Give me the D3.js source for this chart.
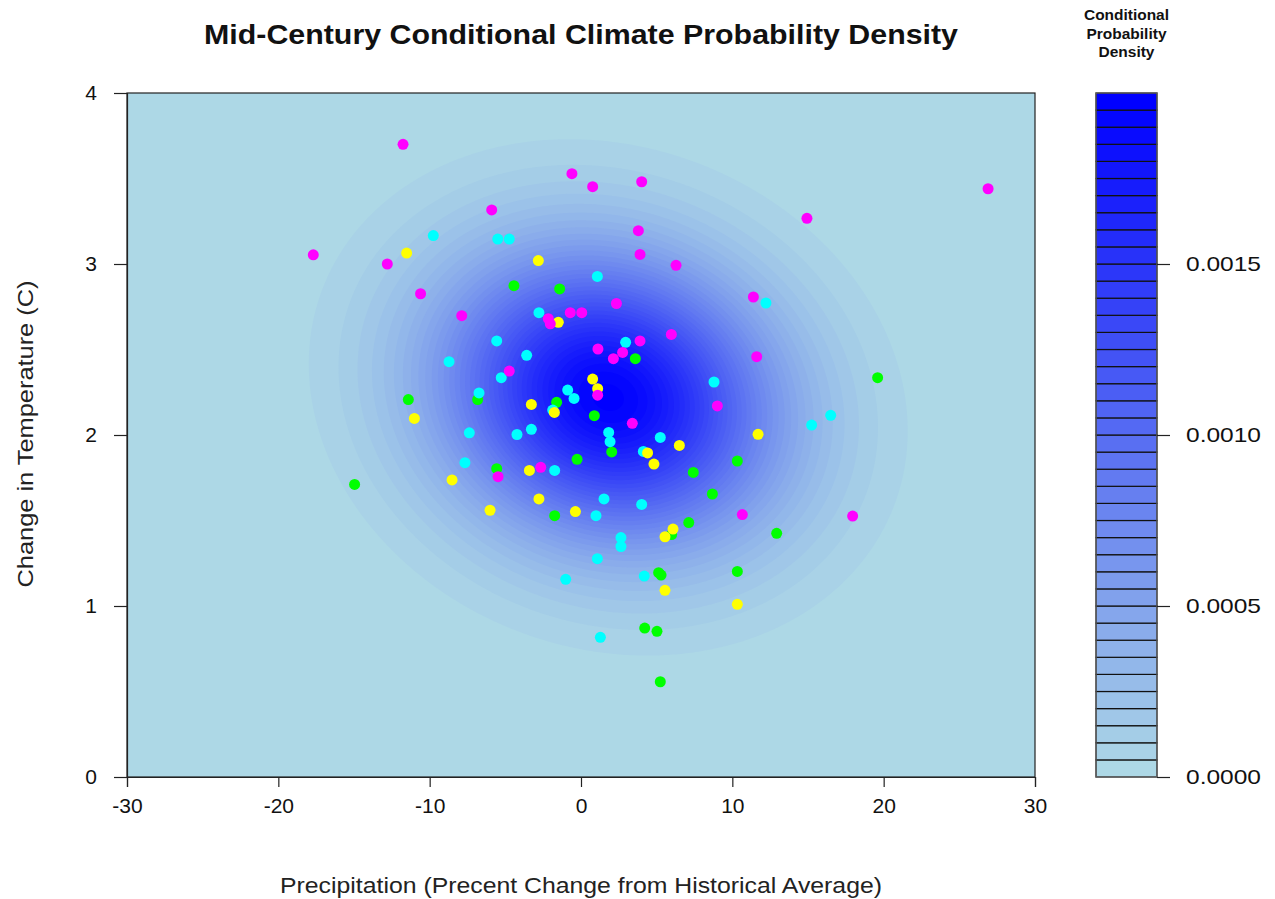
<!DOCTYPE html>
<html>
<head>
<meta charset="utf-8">
<script src="https://cdn.jsdelivr.net/npm/d3@7"></script>
<style>
  body { margin: 0; background: #ffffff; }
  svg { display: block; font-family: "Liberation Sans", Arial, sans-serif; }
</style>
</head>
<body>
<svg id="chart" width="1275" height="899"></svg>
<script>
// Ensemble projections: [precipitation % change, temperature change (C)]
const greenPoints = [
  [-4.43, 2.873], [-1.41, 2.854], [-6.83, 2.207], [-11.41, 2.207], [-5.57, 1.803],
  [-14.96, 1.711], [3.59, 2.446], [-1.61, 2.191], [0.88, 2.113], [2.03, 1.901],
  [-0.26, 1.858], [7.42, 1.781], [10.33, 1.848], [8.68, 1.655], [19.6, 2.335],
  [-1.74, 1.528], [7.12, 1.488], [5.99, 1.418], [12.93, 1.425], [5.13, 1.195],
  [5.29, 1.181], [10.33, 1.202], [4.21, 0.871], [5.02, 0.852], [5.24, 0.557]
];
const cyanPoints = [
  [-9.76, 3.166], [-5.5, 3.146], [-4.74, 3.146], [1.08, 2.927], [12.22, 2.772],
  [-2.78, 2.715], [-5.57, 2.55], [-3.59, 2.466], [-8.72, 2.429], [-5.27, 2.335],
  [-6.74, 2.246], [-7.38, 2.013], [-4.23, 2.003], [-3.28, 2.033], [-7.67, 1.838],
  [2.95, 2.542], [8.79, 2.31], [-0.88, 2.263], [-0.46, 2.214], [-1.87, 2.146],
  [1.83, 2.015], [1.92, 1.961], [5.24, 1.986], [4.12, 1.904], [-1.74, 1.793],
  [1.52, 1.626], [4.01, 1.594], [0.99, 1.528], [2.64, 1.40], [2.64, 1.348],
  [1.08, 1.277], [-1.01, 1.156], [4.18, 1.175], [1.28, 0.817], [16.5, 2.115],
  [15.24, 2.058]
];
const yellowPoints = [
  [-11.52, 3.064], [-2.82, 3.02], [-1.5, 2.659], [-11.01, 2.097], [-3.28, 2.179],
  [-3.41, 1.793], [-8.52, 1.737], [-6.01, 1.56], [-2.78, 1.626], [0.77, 2.327],
  [1.1, 2.271], [-1.76, 2.132], [4.4, 1.895], [6.5, 1.939], [4.82, 1.830],
  [11.7, 2.004], [-0.37, 1.552], [6.08, 1.45], [5.55, 1.405], [5.55, 1.092],
  [10.33, 1.01]
];
const magentaPoints = [
  [-11.76, 3.70], [-17.69, 3.054], [-12.8, 3.0], [-0.6, 3.528], [0.77, 3.452],
  [4.01, 3.481], [-5.9, 3.316], [3.79, 3.195], [3.9, 3.056], [6.28, 2.992],
  [-10.6, 2.826], [-7.88, 2.698], [14.93, 3.267], [26.9, 3.44], [11.39, 2.807],
  [2.34, 2.769], [-0.71, 2.715], [0.05, 2.715], [-2.16, 2.68], [-2.03, 2.65],
  [5.97, 2.588], [3.9, 2.55], [1.12, 2.503], [2.75, 2.483], [2.14, 2.446],
  [-4.74, 2.374], [11.61, 2.458], [1.1, 2.233], [3.39, 2.068], [9.01, 2.17],
  [-2.66, 1.811], [-5.48, 1.756], [10.66, 1.535], [17.95, 1.526]
];
const pointGroups = [
  { color: "#00FF00", points: greenPoints },
  { color: "#00FFFF", points: cyanPoints },
  { color: "#FFFF00", points: yellowPoints },
  { color: "#FF00FF", points: magentaPoints }
];

// Fitted bivariate normal for the conditional density
const densityCenter = [1.8, 2.22];   // precipitation, temperature
const densitySigma = [7.3, 0.557];
const densityRho = -0.13;
const densityPeak = 0.00197;

// Contour levels and colour ramp
const levelStep = 0.00005;
const levelCount = 40;
const colorLow = "lightblue";
const colorHigh = "blue";

const xTicks = [-30, -20, -10, 0, 10, 20, 30];
const yTicks = [0, 1, 2, 3, 4];
const densityTicks = [0, 0.0005, 0.0010, 0.0015];

const titleText = "Mid-Century Conditional Climate Probability Density";
const xLabel = "Precipitation (Precent Change from Historical Average)";
const yLabel = "Change in Temperature (C)";
const keyTitle = ["Conditional", "Probability", "Density"];

// ---- layout ----
const plot = { left: 127, right: 1035, top: 93, bottom: 777 };
const key = { left: 1096, right: 1157 };

const svg = d3.select("#chart");
const x = d3.scaleLinear().domain([-30, 30]).range([plot.left, plot.right]);
const y = d3.scaleLinear().domain([0, 4]).range([plot.bottom, plot.top]);
const yKey = d3.scaleLinear().domain([0, levelStep * levelCount]).range([plot.bottom, plot.top]);

const ramp = d3.interpolateRgb(colorLow, colorHigh);
const bandColors = d3.range(levelCount).map(i => ramp(i / (levelCount - 1)));

function density(px, py) {
  const u = (px - densityCenter[0]) / densitySigma[0];
  const v = (py - densityCenter[1]) / densitySigma[1];
  const q = (u * u - 2 * densityRho * u * v + v * v) / (1 - densityRho * densityRho);
  return densityPeak * Math.exp(-q / 2);
}

// ---- density field ----
const nx = 360, ny = 240;
const dx = 60 / nx, dy = 4 / ny;
const grid = new Float64Array(nx * ny);
for (let j = 0; j < ny; j++) {
  const gy = 4 - (j + 0.5) * dy;
  for (let i = 0; i < nx; i++) {
    const gx = -30 + (i + 0.5) * dx;
    grid[j * nx + i] = density(gx, gy);
  }
}
const thresholds = d3.range(1, levelCount).map(i => i * levelStep);
const contours = d3.contours().size([nx, ny]).thresholds(thresholds)(grid);

const toPixels = d3.geoTransform({
  point: function (cx, cy) {
    this.stream.point(x(-30 + cx * dx), y(4 - cy * dy));
  }
});
const contourPath = d3.geoPath(toPixels);

svg.append("clipPath").attr("id", "plot-clip")
  .append("rect")
  .attr("x", plot.left).attr("y", plot.top)
  .attr("width", plot.right - plot.left).attr("height", plot.bottom - plot.top);

const field = svg.append("g").attr("clip-path", "url(#plot-clip)");
field.append("rect")
  .attr("x", plot.left).attr("y", plot.top)
  .attr("width", plot.right - plot.left).attr("height", plot.bottom - plot.top)
  .attr("fill", bandColors[0]);
field.selectAll("path.band")
  .data(contours)
  .join("path")
  .attr("class", "band")
  .attr("d", contourPath)
  .attr("fill", (d, i) => bandColors[i + 1])
  .attr("stroke", "none");

// ---- points ----
const pointLayer = svg.append("g").attr("clip-path", "url(#plot-clip)");
pointGroups.forEach(g => {
  pointLayer.append("g").selectAll("circle")
    .data(g.points)
    .join("circle")
    .attr("cx", d => x(d[0]))
    .attr("cy", d => y(d[1]))
    .attr("r", 5.5)
    .attr("fill", g.color);
});

// ---- frame and axes ----
svg.append("rect")
  .attr("x", plot.left).attr("y", plot.top)
  .attr("width", plot.right - plot.left).attr("height", plot.bottom - plot.top)
  .attr("fill", "none").attr("stroke", "#222").attr("stroke-width", 1.2);

const axisFont = "21px";
const xAxis = svg.append("g")
  .attr("transform", `translate(0,${plot.bottom})`)
  .call(d3.axisBottom(x).tickValues(xTicks).tickSize(10).tickPadding(11).tickFormat(d3.format("d")));
const yAxis = svg.append("g")
  .attr("transform", `translate(${plot.left},0)`)
  .call(d3.axisLeft(y).tickValues(yTicks).tickSize(13).tickPadding(17).tickFormat(d3.format("d")));
[xAxis, yAxis].forEach(a => {
  a.select(".domain").attr("stroke", "#222").attr("stroke-width", 1.2);
  a.selectAll(".tick line").attr("stroke", "#222").attr("stroke-width", 1.2);
  a.selectAll(".tick text")
    .attr("font-family", "Liberation Sans, Arial, sans-serif")
    .attr("font-size", axisFont).attr("fill", "#111");
});
xAxis.selectAll(".tick text").text(d => d < 0 ? "-" + Math.abs(d) : String(d));

// ---- colour key ----
const keyG = svg.append("g");
keyG.selectAll("rect.key")
  .data(d3.range(levelCount))
  .join("rect")
  .attr("class", "key")
  .attr("x", key.left)
  .attr("width", key.right - key.left)
  .attr("y", i => yKey((i + 1) * levelStep))
  .attr("height", i => yKey(i * levelStep) - yKey((i + 1) * levelStep))
  .attr("fill", i => bandColors[i])
  .attr("stroke", "#111").attr("stroke-width", 1.2);
keyG.append("rect")
  .attr("x", key.left).attr("y", plot.top)
  .attr("width", key.right - key.left).attr("height", plot.bottom - plot.top)
  .attr("fill", "none").attr("stroke", "#666").attr("stroke-width", 1.2);

const keyAxis = svg.append("g")
  .attr("transform", `translate(${key.right},0)`)
  .call(d3.axisRight(yKey).tickValues(densityTicks).tickSize(13).tickPadding(16).tickFormat(d3.format(".4f")));
keyAxis.select(".domain").remove();
keyAxis.selectAll(".tick line").attr("stroke", "#222").attr("stroke-width", 1.2);
keyAxis.selectAll(".tick text")
  .attr("font-family", "Liberation Sans, Arial, sans-serif")
  .attr("font-size", axisFont).attr("fill", "#111")
  .attr("textLength", 75).attr("lengthAdjust", "spacingAndGlyphs");

const keyTitleWidths = [85, 80, 56];
svg.append("g").selectAll("text")
  .data(keyTitle)
  .join("text")
  .attr("x", (key.left + key.right) / 2)
  .attr("y", (d, i) => 20 + i * 18.5)
  .attr("text-anchor", "middle")
  .attr("font-size", "14px").attr("font-weight", "bold").attr("fill", "#111")
  .attr("textLength", (d, i) => keyTitleWidths[i]).attr("lengthAdjust", "spacingAndGlyphs")
  .text(d => d);

// ---- titles ----
svg.append("text")
  .attr("x", (plot.left + plot.right) / 2)
  .attr("y", 44)
  .attr("text-anchor", "middle")
  .attr("font-size", "27px").attr("font-weight", "bold").attr("fill", "#111")
  .attr("textLength", 754).attr("lengthAdjust", "spacingAndGlyphs")
  .text(titleText);

svg.append("text")
  .attr("x", (plot.left + plot.right) / 2)
  .attr("y", 893)
  .attr("text-anchor", "middle")
  .attr("font-size", "22px").attr("fill", "#222")
  .attr("textLength", 602).attr("lengthAdjust", "spacingAndGlyphs")
  .text(xLabel);

svg.append("text")
  .attr("transform", `translate(33,${(plot.top + plot.bottom) / 2 - 1}) rotate(-90)`)
  .attr("text-anchor", "middle")
  .attr("font-size", "22px").attr("fill", "#222")
  .attr("textLength", 307).attr("lengthAdjust", "spacingAndGlyphs")
  .text(yLabel);
</script>
</body>
</html>
